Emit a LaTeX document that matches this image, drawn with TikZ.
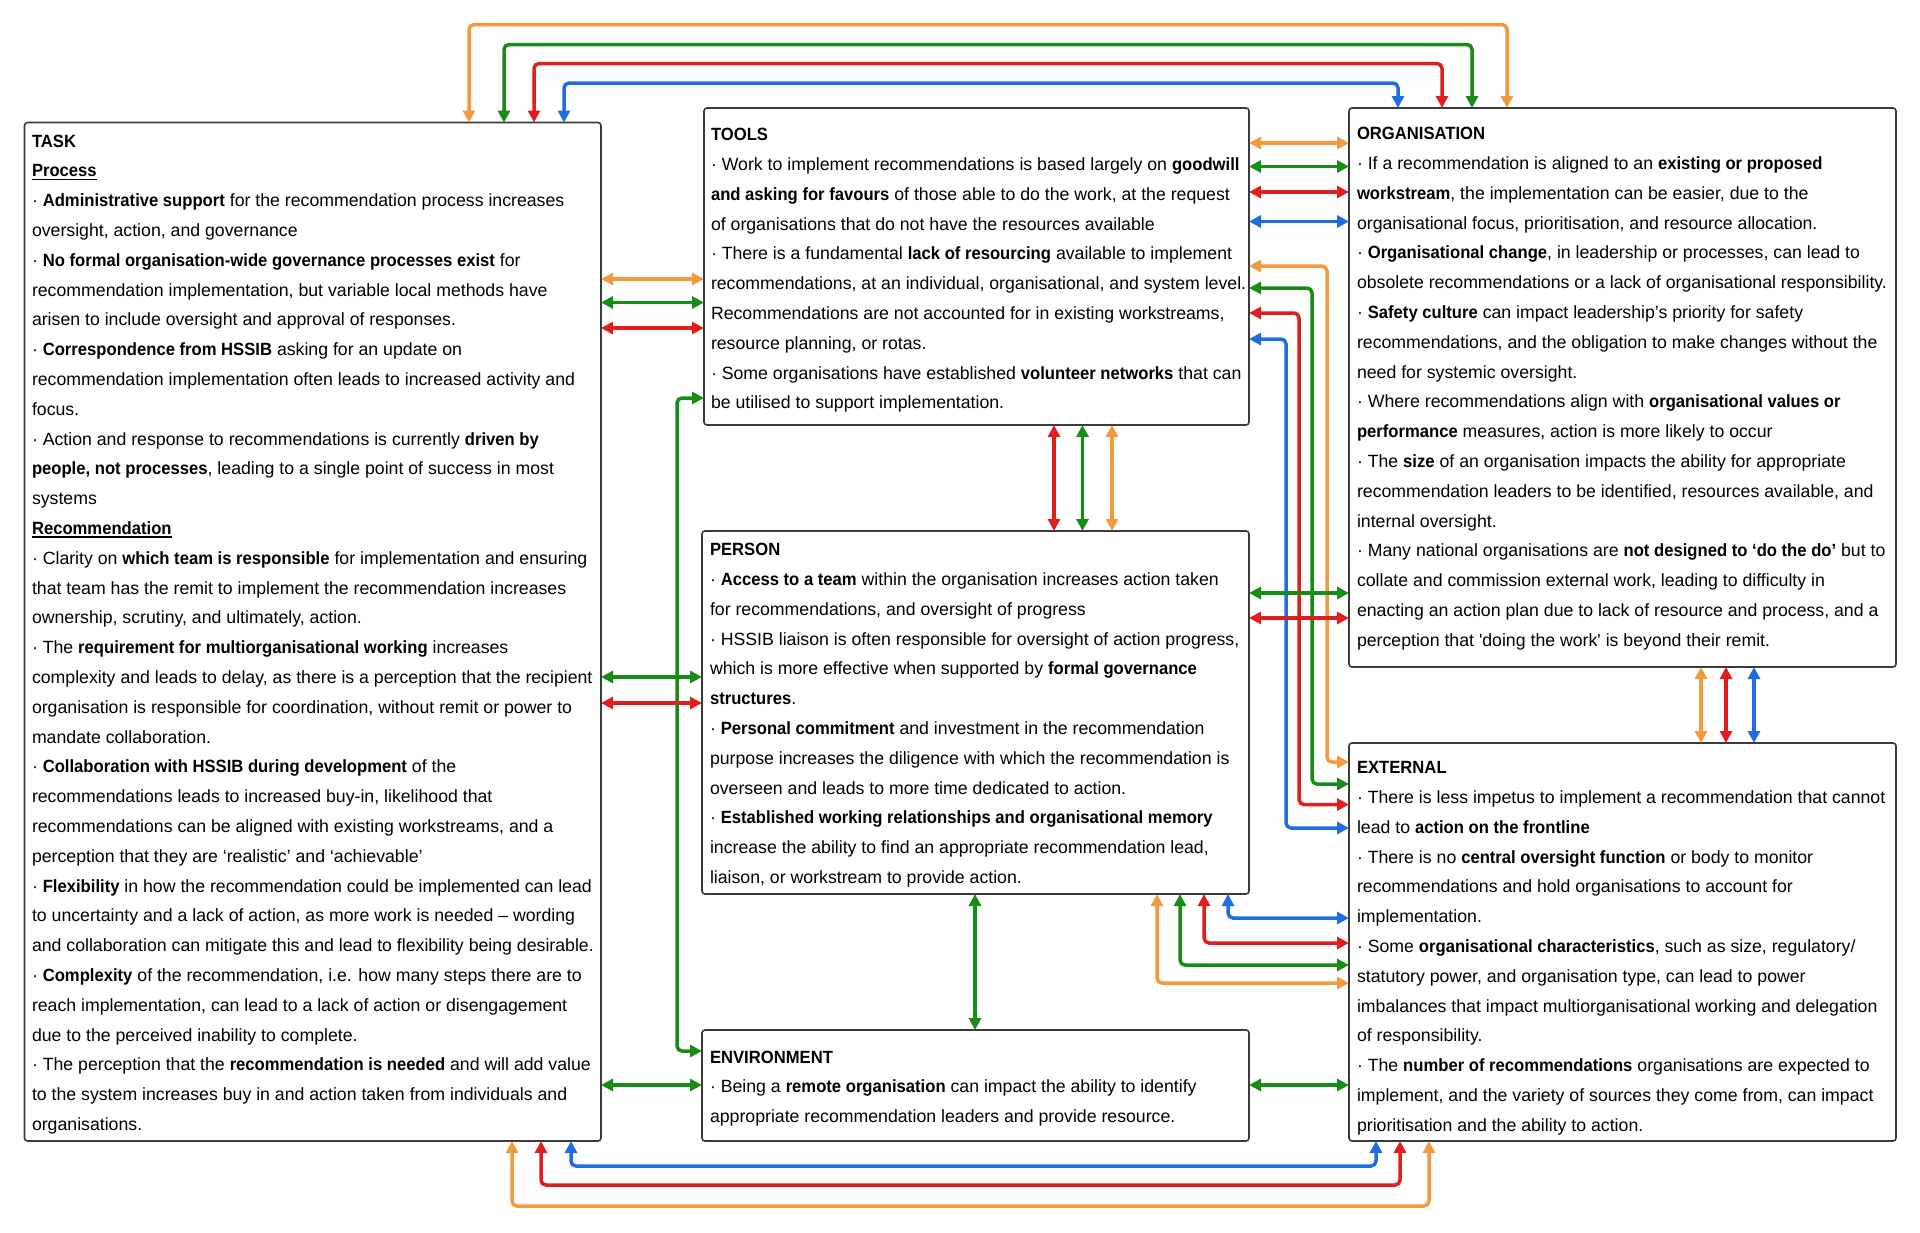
\documentclass[tikz,border=0pt]{standalone}
\usepackage{fontspec}
\setmainfont{Liberation Sans}[BoldFeatures={FakeStretch=0.94}]
\usetikzlibrary{arrows.meta,calc}
\definecolor{cO}{HTML}{F39A3C}
\definecolor{cG}{HTML}{178C17}
\definecolor{cR}{HTML}{E01E1E}
\definecolor{cB}{HTML}{1E6EE1}
\definecolor{bd}{HTML}{3A3A3A}
\newcommand\myul[1]{\setbox0\hbox{#1}\rlap{\rule[-3.5pt]{\wd0}{1.6pt}}\box0}
\newcommand\fst{\rule{0pt}{13pt}}
\begin{document}
\begin{tikzpicture}[x=1pt,y=-1pt,
 box/.style={draw=bd, line width=1.6pt, rounded corners=3pt, anchor=north west, inner sep=0pt, outer sep=0pt, fill=white},
 txt/.style={anchor=north west, inner sep=0pt, outer sep=0pt, align=left, font=\fontsize{17.7}{29.8}\selectfont},
 con/.style={line width=3.5pt, rounded corners=5pt, {Triangle[length=12pt,width=12pt]}-{Triangle[length=12pt,width=12pt]}},
 co/.style={con, draw=cO}, cg/.style={con, draw=cG}, cr/.style={con, draw=cR}, cb/.style={con, draw=cB}]
\fill[white] (0,0) rectangle (1920,1232);
\useasboundingbox (0,0) rectangle (1920,1232);

\node[box, minimum width=576.5pt, minimum height=1018.5pt] (task) at (24.5,122.5) {};
\node[box, minimum width=545pt, minimum height=317pt] (tools) at (704,108) {};
\node[box, minimum width=547pt, minimum height=363pt] (person) at (702,531) {};
\node[box, minimum width=547pt, minimum height=111pt] (env) at (702,1030) {};
\node[box, minimum width=547pt, minimum height=559pt] (org) at (1349,108) {};
\node[box, minimum width=547pt, minimum height=398pt] (ext) at (1349,743) {};

\node[txt] (tasktxt) at ($(task.north west)+(7.5,11.5)$) {\fst\textbf{TASK}\\
\myul{\textbf{Process}}\\
· \textbf{Administrative support} for the recommendation process increases\\
oversight, action, and governance\\
· \textbf{No formal organisation-wide governance processes exist} for\\
recommendation implementation, but variable local methods have\\
arisen to include oversight and approval of responses.\\
· \textbf{Correspondence from HSSIB} asking for an update on\\
recommendation implementation often leads to increased activity and\\
focus.\\
· Action and response to recommendations is currently \textbf{driven by}\\
\textbf{people, not processes}, leading to a single point of success in most\\
systems\\
\myul{\textbf{Recommendation}}\\
· Clarity on \textbf{which team is responsible} for implementation and ensuring\\
that team has the remit to implement the recommendation increases\\
ownership, scrutiny, and ultimately, action.\\
· The \textbf{requirement for multiorganisational working} increases\\
complexity and leads to delay, as there is a perception that the recipient\\
organisation is responsible for coordination, without remit or power to\\
mandate collaboration.\\
· \textbf{Collaboration with HSSIB during development} of the\\
recommendations leads to increased buy-in, likelihood that\\
recommendations can be aligned with existing workstreams, and a\\
perception that they are ‘realistic’ and ‘achievable’\\
· \textbf{Flexibility} in how the recommendation could be implemented can lead\\
to uncertainty and a lack of action, as more work is needed – wording\\
and collaboration can mitigate this and lead to flexibility being desirable.\\
· \textbf{Complexity} of the recommendation, i.e. how many steps there are to\\
reach implementation, can lead to a lack of action or disengagement\\
due to the perceived inability to complete.\\
· The perception that the \textbf{recommendation is needed} and will add value\\
to the system increases buy in and action taken from individuals and\\
organisations.};

\node[txt] (toolstxt) at ($(tools.north west)+(7,19.6)$) {\fst\textbf{TOOLS}\\
· Work to implement recommendations is based largely on \textbf{goodwill}\\
\textbf{and asking for favours} of those able to do the work, at the request\\
of organisations that do not have the resources available\\
· There is a fundamental \textbf{lack of resourcing} available to implement\\
recommendations, at an individual, organisational, and system level.\\
Recommendations are not accounted for in existing workstreams,\\
resource planning, or rotas.\\
· Some organisations have established \textbf{volunteer networks} that can\\
be utilised to support implementation.};

\node[txt] (persontxt) at ($(person.north west)+(8,11.6)$) {\fst\textbf{PERSON}\\
· \textbf{Access to a team} within the organisation increases action taken\\
for recommendations, and oversight of progress\\
· HSSIB liaison is often responsible for oversight of action progress,\\
which is more effective when supported by \textbf{formal governance}\\
\textbf{structures}.\\
· \textbf{Personal commitment} and investment in the recommendation\\
purpose increases the diligence with which the recommendation is\\
overseen and leads to more time dedicated to action.\\
· \textbf{Established working relationships and organisational memory}\\
increase the ability to find an appropriate recommendation lead,\\
liaison, or workstream to provide action.};

\node[txt] (envtxt) at ($(env.north west)+(8,20)$) {\fst\textbf{ENVIRONMENT}\\
· Being a \textbf{remote organisation} can impact the ability to identify\\
appropriate recommendation leaders and provide resource.};

\node[txt] (orgtxt) at ($(org.north west)+(8,18.6)$) {\fst\textbf{ORGANISATION}\\
· If a recommendation is aligned to an \textbf{existing or proposed}\\
\textbf{workstream}, the implementation can be easier, due to the\\
organisational focus, prioritisation, and resource allocation.\\
· \textbf{Organisational change}, in leadership or processes, can lead to\\
obsolete recommendations or a lack of organisational responsibility.\\
· \textbf{Safety culture} can impact leadership’s priority for safety\\
recommendations, and the obligation to make changes without the\\
need for systemic oversight.\\
· Where recommendations align with \textbf{organisational values or}\\
\textbf{performance} measures, action is more likely to occur\\
· The \textbf{size} of an organisation impacts the ability for appropriate\\
recommendation leaders to be identified, resources available, and\\
internal oversight.\\
· Many national organisations are \textbf{not designed to ‘do the do’} but to\\
collate and commission external work, leading to difficulty in\\
enacting an action plan due to lack of resource and process, and a\\
perception that \textquotesingle doing the work\textquotesingle{} is beyond their remit.};

\node[txt] (exttxt) at ($(ext.north west)+(8,17.6)$) {\fst\textbf{EXTERNAL}\\
· There is less impetus to implement a recommendation that cannot\\
lead to \textbf{action on the frontline}\\
· There is no \textbf{central oversight function} or body to monitor\\
recommendations and hold organisations to account for\\
implementation.\\
· Some \textbf{organisational characteristics}, such as size, regulatory/\\
statutory power, and organisation type, can lead to power\\
imbalances that impact multiorganisational working and delegation\\
of responsibility.\\
· The \textbf{number of recommendations} organisations are expected to\\
implement, and the variety of sources they come from, can impact\\
prioritisation and the ability to action.};

% top: task <-> organisation
\draw[co] ($(task.north west)+(444.5,0)$) |- ($(org.north west)+(158,-83.5)$) -- ($(org.north west)+(158,0)$);
\draw[cg] ($(task.north west)+(479.5,0)$) |- ($(org.north west)+(123,-63.5)$) -- ($(org.north west)+(123,0)$);
\draw[cr] ($(task.north west)+(509.5,0)$) |- ($(org.north west)+(93,-44.5)$) -- ($(org.north west)+(93,0)$);
\draw[cb] ($(task.north west)+(539.5,0)$) |- ($(org.north west)+(49,-25)$) -- ($(org.north west)+(49,0)$);
% bottom: task <-> external
\draw[co] ($(task.south west)+(487.5,0)$) |- ($(ext.south west)+(80,65)$) -- ($(ext.south west)+(80,0)$);
\draw[cr] ($(task.south west)+(516.5,0)$) |- ($(ext.south west)+(51,44)$) -- ($(ext.south west)+(51,0)$);
\draw[cb] ($(task.south west)+(546.5,0)$) |- ($(ext.south west)+(27,25)$) -- ($(ext.south west)+(27,0)$);
% task <-> tools
\draw[co] ($(task.north east)+(0,156.5)$) -- ($(tools.north west)+(0,171)$);
\draw[cg] ($(task.north east)+(0,180)$) -- ($(tools.north west)+(0,194.5)$);
\draw[cr] ($(task.north east)+(0,205.5)$) -- ($(tools.north west)+(0,220)$);
% tools <-> environment
\draw[cg] ($(tools.north west)+(0,290)$) -| ($(env.north west)+(-25,21)$) -- ($(env.north west)+(0,21)$);
% task <-> person
\draw[cg] ($(task.north east)+(0,554.5)$) -- ($(person.north west)+(0,146)$);
\draw[cr] ($(task.north east)+(0,580.5)$) -- ($(person.north west)+(0,172)$);
% task <-> environment
\draw[cg] ($(task.north east)+(0,962.5)$) -- ($(env.north west)+(0,55)$);
% tools <-> person
\draw[cr] ($(tools.south west)+(350,0)$) -- ($(person.north west)+(352,0)$);
\draw[cg] ($(tools.south west)+(378.5,0)$) -- ($(person.north west)+(380.5,0)$);
\draw[co] ($(tools.south west)+(408,0)$) -- ($(person.north west)+(410,0)$);
% person <-> environment
\draw[cg] ($(person.south west)+(273,0)$) -- ($(env.north west)+(273,0)$);
% environment <-> external
\draw[cg] ($(env.north east)+(0,55)$) -- ($(ext.north west)+(0,342)$);
% tools <-> organisation
\draw[co] ($(tools.north east)+(0,35)$) -- ($(org.north west)+(0,35)$);
\draw[cg] ($(tools.north east)+(0,58.5)$) -- ($(org.north west)+(0,58.5)$);
\draw[cr] ($(tools.north east)+(0,84)$) -- ($(org.north west)+(0,84)$);
\draw[cb] ($(tools.north east)+(0,113.5)$) -- ($(org.north west)+(0,113.5)$);
% tools <-> external
\draw[co] ($(tools.north east)+(0,158)$) -| ($(ext.north west)+(-22,19)$) -- ($(ext.north west)+(0,19)$);
\draw[cg] ($(tools.north east)+(0,180)$) -| ($(ext.north west)+(-37,41)$) -- ($(ext.north west)+(0,41)$);
\draw[cr] ($(tools.north east)+(0,205)$) -| ($(ext.north west)+(-50,61.5)$) -- ($(ext.north west)+(0,61.5)$);
\draw[cb] ($(tools.north east)+(0,231)$) -| ($(ext.north west)+(-63,85)$) -- ($(ext.north west)+(0,85)$);
% person <-> organisation
\draw[cg] ($(person.north east)+(0,62)$) -- ($(org.north west)+(0,485)$);
\draw[cr] ($(person.north east)+(0,87)$) -- ($(org.north west)+(0,510)$);
% person <-> external
\draw[cb] ($(person.south west)+(526,0)$) |- ($(ext.north west)+(0,175)$);
\draw[cr] ($(person.south west)+(502,0)$) |- ($(ext.north west)+(0,200)$);
\draw[cg] ($(person.south west)+(478,0)$) |- ($(ext.north west)+(0,222)$);
\draw[co] ($(person.south west)+(455,0)$) |- ($(ext.north west)+(0,240)$);
% organisation <-> external
\draw[co] ($(org.south west)+(352,0)$) -- ($(ext.north west)+(352,0)$);
\draw[cr] ($(org.south west)+(377,0)$) -- ($(ext.north west)+(377,0)$);
\draw[cb] ($(org.south west)+(405,0)$) -- ($(ext.north west)+(405,0)$);
\end{tikzpicture}
\end{document}
